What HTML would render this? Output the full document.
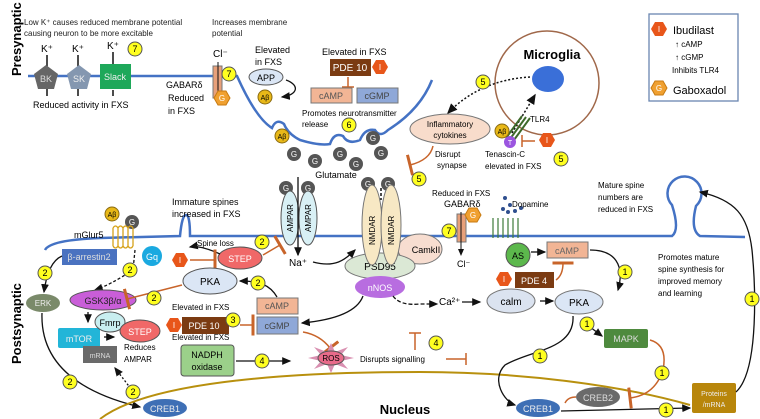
<!DOCTYPE html><html><head><style>body{margin:0;background:#fff}svg{display:block;font-family:"Liberation Sans",sans-serif}</style></head><body>
<svg width="760" height="419" viewBox="0 0 760 419" xmlns="http://www.w3.org/2000/svg">
<defs>
<marker id="a" markerWidth="8" markerHeight="8" refX="6" refY="4" orient="auto"><path d="M0,1 L7,4 L0,7z" fill="#111"/></marker>
<marker id="t" markerWidth="4" markerHeight="14" refX="2" refY="7" orient="auto"><path d="M2,0 V14" stroke="#c8642a" stroke-width="2"/></marker>
</defs>
<!-- side labels -->
<text transform="translate(21,76) rotate(-90)" font-size="13" font-weight="bold">Presynaptic</text>
<text transform="translate(21,364) rotate(-90)" font-size="13" font-weight="bold">Postsynaptic</text>
<g font-size="8" fill="#222">
<text x="24" y="25">Low K⁺ causes reduced membrane potential</text><text x="24" y="36">causing neuron to be more excitable</text>
<text x="212" y="25">Increases membrane</text><text x="212" y="36">potential</text>
</g>
<!-- presynaptic membrane -->
<path d="M28,76 H237 C250,105 262,122 272,128 Q276,118 284,124 Q288,134 300,140 Q320,146 330,144 Q334,132 343,136 Q348,145 360,140 Q365,128 375,130 Q380,138 388,130 Q420,110 432,80" fill="none" stroke="#4472c4" stroke-width="2.5"/>
<g font-size="10" text-anchor="middle"><text x="47" y="52">K⁺</text><text x="78" y="52">K⁺</text><text x="113" y="49">K⁺</text></g>
<g stroke="#111" stroke-width="1.5"><path d="M47,70V55M78,70V55M113,66V52M47,84V96M78,84V96M113,90V96"/></g>
<polygon points="46,65 58,74 54,89 38,89 34,74" fill="#666"/><text x="46" y="82" font-size="9" fill="#ddd" text-anchor="middle">BK</text>
<polygon points="79,65 91,74 87,89 71,89 67,74" fill="#8497b0"/><text x="79" y="82" font-size="9" fill="#eee" text-anchor="middle">SK</text>
<rect x="100" y="64" width="31" height="25" fill="#1ea85a"/><text x="115" y="80" font-size="9" fill="#eee" text-anchor="middle">Slack</text>
<text x="33" y="108" font-size="9">Reduced activity in FXS</text>
<rect x="213" y="66" width="9" height="32" fill="#e8a07a" stroke="#777"/>
<path d="M218,62V100" stroke="#111" stroke-width="1"/>
<text x="213" y="57" font-size="10">Cl⁻</text>
<g font-size="9"><text x="166" y="88">GABARδ</text><text x="168" y="101">Reduced</text><text x="168" y="114">in FXS</text>
<text x="255" y="53">Elevated</text><text x="255" y="65">in FXS</text>
<text x="322" y="55">Elevated in FXS</text>
<text x="302" y="116" font-size="8">Promotes neurotransmitter</text><text x="302" y="127" font-size="8">release</text></g>
<ellipse cx="266" cy="77" rx="17" ry="8" fill="#dbe6f5" stroke="#555"/><text x="266" y="81" font-size="9" text-anchor="middle">APP</text>
<path d="M286,80 C300,85 298,95 282,97" fill="none" stroke="#111" stroke-width="1.3" marker-end="url(#a)"/>
<rect x="330" y="59" width="41" height="17" fill="#7b3b12"/><text x="350" y="71" font-size="10" fill="#fff" text-anchor="middle">PDE 10</text>
<path d="M348,77V87M342,87h12" stroke="#c8642a" stroke-width="1.5"/>
<rect x="311" y="88" width="41" height="15" fill="#f2b595" stroke="#777"/><text x="331" y="99" font-size="9" fill="#555" text-anchor="middle">cAMP</text>
<rect x="357" y="88" width="41" height="15" fill="#8fa8d8" stroke="#777"/><text x="377" y="99" font-size="9" fill="#444" text-anchor="middle">cGMP</text>
<!-- glutamate -->
<g fill="#555"><circle cx="294" cy="154" r="7"/><circle cx="315" cy="161" r="7"/><circle cx="340" cy="154" r="7"/><circle cx="356" cy="164" r="7"/><circle cx="373" cy="138" r="7"/><circle cx="381" cy="153" r="7"/><circle cx="286" cy="188" r="7"/><circle cx="308" cy="188" r="7"/><circle cx="368" cy="184" r="7"/><circle cx="388" cy="184" r="7"/><circle cx="132" cy="222" r="7"/></g>
<g font-size="8" fill="#fff" text-anchor="middle"><text x="294" y="157">G</text><text x="315" y="164">G</text><text x="340" y="157">G</text><text x="356" y="167">G</text><text x="373" y="141">G</text><text x="381" y="156">G</text><text x="286" y="191">G</text><text x="308" y="191">G</text><text x="368" y="187">G</text><text x="388" y="187">G</text><text x="132" y="225">G</text></g>
<text x="336" y="178" font-size="9" text-anchor="middle">Glutamate</text>
<!-- postsynaptic membrane -->
<path d="M45,250 Q50,240 100,238 L180,236 Q182,215 186,215 Q190,215 190,236 L672,236 Q680,230 672,205 A17,17 0 1 1 696,206 Q690,230 700,236 L745,237" fill="none" stroke="#4472c4" stroke-width="2.5"/>
<text x="172" y="205" font-size="9">Immature spines</text><text x="172" y="217" font-size="9">increased in FXS</text>
<g font-size="8"><text x="598" y="188">Mature spine</text><text x="598" y="200">numbers are</text><text x="598" y="212">reduced in FXS</text>
<text x="658" y="260">Promotes mature</text><text x="658" y="272">spine synthesis for</text><text x="658" y="284">improved memory</text><text x="658" y="296">and learning</text></g>
<!-- receptors -->
<ellipse cx="290" cy="218" rx="9" ry="27" fill="#d8f0f5" stroke="#555"/><ellipse cx="308" cy="218" rx="9" ry="27" fill="#d8f0f5" stroke="#555"/>
<text transform="translate(293,232) rotate(-90)" font-size="8">AMPAR</text><text transform="translate(311,232) rotate(-90)" font-size="8">AMPAR</text>
<path d="M298,177V255" stroke="#111" stroke-width="1.3" marker-end="url(#a)"/>
<text x="298" y="266" font-size="10" text-anchor="middle">Na⁺</text>
<ellipse cx="420" cy="249" rx="22" ry="15" fill="#f7ddd0" stroke="#777"/><text x="426" y="253" font-size="9" text-anchor="middle">CamkII</text>
<ellipse cx="380" cy="266" rx="35" ry="13" fill="#dbe8d5" stroke="#777"/><text x="380" y="270" font-size="10" text-anchor="middle">PSD95</text>
<ellipse cx="372" cy="225" rx="10" ry="40" fill="#f7e8c4" stroke="#777"/><ellipse cx="391" cy="225" rx="10" ry="40" fill="#f7e8c4" stroke="#777"/>
<path d="M381,188V200" stroke="#111" stroke-width="1.5" stroke-dasharray="3,2"/>
<text transform="translate(375,245) rotate(-90)" font-size="8">NMDAR</text><text transform="translate(394,245) rotate(-90)" font-size="8">NMDAR</text>
<ellipse cx="380" cy="287" rx="25" ry="11" fill="#b86de0"/><text x="380" y="291" font-size="9" fill="#fff" text-anchor="middle">nNOS</text>
<path d="M313,262 C335,268 345,260 355,250" fill="none" stroke="#111" stroke-width="1.3" marker-end="url(#a)"/>
<!-- left post -->
<text x="74" y="238" font-size="9">mGlur5</text>
<path d="M113,228 v18 M118,228 v18 M123,228 v18 M128,228 v18 M133,228 v18 M113,228 q2.5,-4 5,0 q2.5,-4 5,0 q2.5,-4 5,0 q2.5,-4 5,0 M113,246 q2.5,4 5,0 q2.5,4 5,0 q2.5,4 5,0 q2.5,4 5,0" fill="none" stroke="#d6a21a" stroke-width="1.3"/>
<rect x="62" y="249" width="55" height="16" fill="#4a72c0"/><text x="89" y="260" font-size="9" fill="#ddd" text-anchor="middle">β-arrestin2</text>
<circle cx="152" cy="256" r="10" fill="#1aa9e0"/><text x="152" y="260" font-size="9" fill="#fff" text-anchor="middle">Gq</text>
<path d="M62,256 Q48,262 44,292" fill="none" stroke="#111" stroke-width="1.3" marker-end="url(#a)"/>
<path d="M135,250 L133,270 Q110,285 95,290" fill="none" stroke="#111" stroke-width="1.3" stroke-dasharray="3,2" marker-end="url(#a)"/>
<ellipse cx="43" cy="303" rx="17" ry="9" fill="#7a8a6a"/><text x="43" y="306" font-size="8" fill="#eee" text-anchor="middle">ERK</text>
<ellipse cx="103" cy="300" rx="33" ry="10" fill="#c95ed8" stroke="#555"/><text x="103" y="304" font-size="9" fill="#222" text-anchor="middle">GSK3β/α</text>
<path d="M88,312V322" stroke="#111" stroke-width="1.3" marker-end="url(#a)"/>
<rect x="58" y="328" width="42" height="20" rx="2" fill="#22b5d8"/><text x="79" y="342" font-size="9" fill="#eee" text-anchor="middle">mTOR</text>
<ellipse cx="110" cy="322" rx="15" ry="10" fill="#c8eef0" stroke="#555"/><text x="110" y="326" font-size="9" text-anchor="middle">Fmrp</text>
<ellipse cx="140" cy="331" rx="20" ry="11" fill="#f06868" stroke="#555"/><text x="140" y="335" font-size="9" fill="#fff" text-anchor="middle">STEP</text>
<path d="M104,337h10" stroke="#111" stroke-width="1.3" marker-end="url(#a)"/>
<rect x="83" y="346" width="34" height="17" fill="#6a6a6a"/><text x="100" y="358" font-size="7" fill="#ddd" text-anchor="middle">mRNA</text>
<text x="124" y="350" font-size="8">Reduces</text><text x="124" y="362" font-size="8">AMPAR</text>
<path d="M42,313 C40,370 90,395 140,407" fill="none" stroke="#111" stroke-width="1.3" marker-end="url(#a)"/>
<path d="M138,398 L115,368" stroke="#111" stroke-width="1.3" stroke-dasharray="2,2" marker-end="url(#a)"/>
<path d="M100,419 C150,380 300,372 420,372 C520,372 620,385 690,405" fill="none" stroke="#b8900e" stroke-width="2"/>
<ellipse cx="165" cy="408" rx="22" ry="9" fill="#3e6fb5"/><text x="165" y="412" font-size="9" fill="#eee" text-anchor="middle">CREB1</text>
<text x="405" y="414" font-size="13" font-weight="bold" text-anchor="middle">Nucleus</text>
<!-- STEP / PKA center -->
<ellipse cx="240" cy="258" rx="22" ry="11" fill="#f06868" stroke="#555"/><text x="240" y="262" font-size="9" fill="#fff" text-anchor="middle">STEP</text>
<text x="197" y="246" font-size="8">Spine loss</text>
<path d="M220,254 Q200,245 190,247" fill="none" stroke="#111" stroke-width="1.3" marker-end="url(#a)"/>
<path d="M190,260H215" stroke="#c8642a" stroke-width="1.5" marker-end="url(#t)"/>
<path d="M263,255L280,245" stroke="#c8642a" stroke-width="1.5" marker-end="url(#t)"/>
<ellipse cx="210" cy="281" rx="27" ry="13" fill="#dbe6f5" stroke="#555"/><text x="210" y="285" font-size="10" text-anchor="middle">PKA</text>
<path d="M277,297 C270,285 260,281 240,281" fill="none" stroke="#111" stroke-width="1.3" marker-end="url(#a)"/>
<path d="M182,285 L127,299" stroke="#c8642a" stroke-width="1.5" marker-end="url(#t)"/>
<rect x="257" y="298" width="41" height="16" fill="#f2b595" stroke="#777"/><text x="277" y="309" font-size="9" fill="#555" text-anchor="middle">cAMP</text>
<rect x="257" y="317" width="41" height="17" fill="#8fa8d8" stroke="#777"/><text x="277" y="329" font-size="9" fill="#444" text-anchor="middle">cGMP</text>
<text x="172" y="310" font-size="8">Elevated in FXS</text>
<rect x="182" y="317" width="47" height="17" fill="#7b3b12"/><text x="204" y="329" font-size="9" fill="#fff" text-anchor="middle">PDE 10</text>
<path d="M240,325H253" stroke="#c8642a" stroke-width="1.5" marker-end="url(#t)"/>
<path d="M363,296 Q355,318 302,323" fill="none" stroke="#111" stroke-width="1.3" marker-end="url(#a)"/>
<path d="M303,332 Q320,335 330,348" fill="none" stroke="#c8642a" stroke-width="1.5" marker-end="url(#t)"/>
<text x="172" y="340" font-size="8">Elevated in FXS</text>
<rect x="181" y="345" width="53" height="31" rx="3" fill="#9bd08a" stroke="#555"/><text x="207" y="358" font-size="9" text-anchor="middle">NADPH</text><text x="207" y="370" font-size="9" text-anchor="middle">oxidase</text>
<path d="M236,361H290" stroke="#111" stroke-width="1.3" marker-end="url(#a)"/>
<polygon points="331,343 335,352 348,347 341,355 354,358 341,361 348,369 335,364 331,373 327,364 314,369 321,361 308,358 321,355 314,347 327,352" fill="#d98fb0"/>
<ellipse cx="331" cy="358" rx="13" ry="7" fill="#e86a8a" stroke="#555"/><text x="331" y="361" font-size="8" text-anchor="middle">ROS</text>
<text x="360" y="362" font-size="8">Disrupts signalling</text>
<path d="M415,350V333M409,333h12M446,359H466M466,353v12" stroke="#c8642a" stroke-width="1.5" fill="none"/>
<!-- microglia -->
<circle cx="547" cy="83" r="52" fill="none" stroke="#a0684a" stroke-width="1.5"/>
<text x="552" y="59" font-size="13" font-weight="bold" text-anchor="middle">Microglia</text>
<ellipse cx="548" cy="79" rx="16" ry="13" fill="#3a6fd8"/>
<path d="M530,77 Q480,80 448,113" fill="none" stroke="#111" stroke-width="1.5" stroke-dasharray="2,2" marker-end="url(#a)"/>
<path d="M512,133 L535,95" stroke="#111" stroke-width="1.5" stroke-dasharray="2,2" marker-end="url(#a)"/>
<ellipse cx="450" cy="129" rx="40" ry="15" fill="#f8dccb" stroke="#777"/><text x="450" y="127" font-size="8" text-anchor="middle">Inflammatory</text><text x="450" y="138" font-size="8" text-anchor="middle">cytokines</text>
<path d="M433,146 Q430,160 410,165" fill="none" stroke="#c8642a" stroke-width="1.5" marker-end="url(#t)"/>
<text x="435" y="157" font-size="8">Disrupt</text><text x="437" y="168" font-size="8">synapse</text>
<path d="M506,138 L522,116 M510,139 L526,117 M514,140 L530,118" stroke="#3e6a2a" stroke-width="2"/>
<text x="530" y="122" font-size="8">TLR4</text>
<circle cx="510" cy="142" r="6" fill="#9b55e0"/><text x="510" y="145" font-size="7" fill="#fff" text-anchor="middle">T</text>
<path d="M535,141H522M522,135v12" stroke="#c8642a" stroke-width="1.5"/>
<text x="485" y="157" font-size="8">Tenascin-C</text><text x="485" y="169" font-size="8">elevated in FXS</text>
<!-- right post -->
<text x="432" y="196" font-size="8">Reduced in FXS</text><text x="444" y="207" font-size="9">GABARδ</text>
<rect x="457" y="214" width="9" height="28" fill="#e8a07a" stroke="#777"/>
<path d="M461,212V255" stroke="#111" stroke-width="1" marker-end="url(#a)"/>
<text x="457" y="267" font-size="9">Cl⁻</text>
<g fill="#2f4f8f"><circle cx="505" cy="198" r="2"/><circle cx="510" cy="205" r="2"/><circle cx="503" cy="209" r="2"/><circle cx="515" cy="211" r="2"/><circle cx="521" cy="208" r="2"/><circle cx="508" cy="212" r="2"/></g>
<text x="512" y="207" font-size="8">Dopamine</text>
<path d="M493,218 v20 M498,218 v20 M503,218 v20 M508,218 v20 M513,218 v20 M518,218 v20" stroke="#3e7a3a" stroke-width="1.2"/>
<circle cx="518" cy="255" r="12" fill="#5cb84c" stroke="#555"/><text x="518" y="259" font-size="9" text-anchor="middle">AS</text>
<path d="M531,252H545" stroke="#111" stroke-width="1.3" marker-end="url(#a)"/>
<rect x="547" y="242" width="41" height="16" fill="#f2b595" stroke="#777"/><text x="567" y="254" font-size="9" fill="#666" text-anchor="middle">cAMP</text>
<path d="M590,250 C615,250 625,265 618,290" fill="none" stroke="#111" stroke-width="1.3" marker-end="url(#a)"/>
<rect x="515" y="272" width="39" height="16" fill="#7b3b12"/><text x="534" y="284" font-size="9" fill="#fff" text-anchor="middle">PDE 4</text>
<path d="M556,280 Q563,275 563,263" fill="none" stroke="#c8642a" stroke-width="1.5" marker-end="url(#t)"/>
<path d="M393,296 Q400,306 420,304 H437" fill="none" stroke="#111" stroke-width="1.3" stroke-dasharray="4,2" marker-end="url(#a)"/>
<text x="439" y="305" font-size="10">Ca²⁺</text>
<path d="M462,302H480" stroke="#111" stroke-width="1.3" marker-end="url(#a)"/>
<ellipse cx="511" cy="301" rx="24" ry="12" fill="#dbe3f0" stroke="#777"/><text x="511" y="305" font-size="10" text-anchor="middle">calm</text>
<path d="M540,301H553" stroke="#111" stroke-width="1.3" marker-end="url(#a)"/>
<ellipse cx="579" cy="302" rx="24" ry="12" fill="#dbe6f5" stroke="#777"/><text x="579" y="306" font-size="10" text-anchor="middle">PKA</text>
<path d="M590,327 L602,336" stroke="#111" stroke-width="1.3" marker-end="url(#a)"/>
<rect x="604" y="329" width="44" height="19" rx="2" fill="#4e8a3e"/><text x="626" y="342" font-size="9" fill="#ddd" text-anchor="middle">MAPK</text>
<path d="M650,340 Q668,345 663,370 Q655,395 630,398" fill="none" stroke="#c8642a" stroke-width="1.5" marker-end="url(#t)"/>
<path d="M573,316 C575,350 530,350 505,365 C490,380 505,402 515,405" fill="none" stroke="#111" stroke-width="1.3" marker-end="url(#a)"/>
<ellipse cx="598" cy="397" rx="22" ry="10" fill="#6a6a6a"/><text x="598" y="401" font-size="9" fill="#ddd" text-anchor="middle">CREB2</text>
<path d="M576,397 Q568,397 565,403" fill="none" stroke="#c8642a" stroke-width="1.5"/>
<ellipse cx="538" cy="408" rx="22" ry="9" fill="#3e6fb5"/><text x="538" y="412" font-size="9" fill="#eee" text-anchor="middle">CREB1</text>
<path d="M561,411 L690,408" stroke="#111" stroke-width="1.3" marker-end="url(#a)"/>
<rect x="692" y="383" width="44" height="30" rx="2" fill="#b8860b"/><text x="714" y="396" font-size="7" fill="#eee" text-anchor="middle">Proteins</text><text x="714" y="407" font-size="7" fill="#eee" text-anchor="middle">/mRNA</text>
<path d="M736,392 C760,370 755,280 752,250 C748,215 735,200 700,192" fill="none" stroke="#111" stroke-width="1.3" marker-end="url(#a)"/>
<!-- legend -->
<rect x="649" y="14" width="89" height="87" fill="#fff" stroke="#6a86b0" stroke-width="1.3"/>
<text x="673" y="34" font-size="11">Ibudilast</text>
<text x="675" y="47" font-size="8">↑ cAMP</text><text x="675" y="60" font-size="8">↑ cGMP</text><text x="672" y="73" font-size="8">Inhibits TLR4</text>
<text x="673" y="94" font-size="11">Gaboxadol</text>
<g fill="#e8561a">
<polygon points="655,22 663,22 667,29 663,36 655,36 651,29"/>
<polygon points="376,60 384,60 388,67 384,74 376,74 372,67"/>
<polygon points="176,253 184,253 188,260 184,267 176,267 172,260"/>
<polygon points="170,318 178,318 182,325 178,332 170,332 166,325"/>
<polygon points="543,133 551,133 555,140 551,147 543,147 539,140"/>
<polygon points="500,272 508,272 512,279 508,286 500,286 496,279"/>
</g>
<g font-size="8" fill="#fff" text-anchor="middle"><text x="659" y="32">I</text><text x="380" y="70">I</text><text x="180" y="263">I</text><text x="174" y="328">I</text><text x="547" y="143">I</text><text x="504" y="282">I</text></g>
<g fill="#f0a030" stroke="#c87a10">
<polygon points="655,81 663,81 667,88 663,95 655,95 651,88"/>
<polygon points="218,91 226,91 230,98 226,105 218,105 214,98"/>
<polygon points="469,208 477,208 481,215 477,222 469,222 465,215"/>
</g>
<g font-size="8" fill="#fff" text-anchor="middle"><text x="659" y="91">G</text><text x="222" y="101">G</text><text x="473" y="218">G</text></g>
<g fill="#e8b818" stroke="#8a6a10"><circle cx="265" cy="97" r="7"/><circle cx="282" cy="136" r="7"/><circle cx="112" cy="214" r="7"/><circle cx="502" cy="131" r="7"/></g>
<g font-size="7" text-anchor="middle"><text x="265" y="100">Aβ</text><text x="282" y="139">Aβ</text><text x="112" y="217">Aβ</text><text x="502" y="134">Aβ</text></g>
<g fill="#ffff20" stroke="#555">
<circle cx="135" cy="49" r="7"/><circle cx="229" cy="74" r="7"/><circle cx="349" cy="125" r="7"/>
<circle cx="483" cy="82" r="7"/><circle cx="419" cy="179" r="7"/><circle cx="561" cy="159" r="7"/>
<circle cx="45" cy="273" r="7"/><circle cx="130" cy="270" r="7"/><circle cx="154" cy="298" r="7"/><circle cx="262" cy="242" r="7"/><circle cx="258" cy="283" r="7"/>
<circle cx="233" cy="320" r="7"/><circle cx="262" cy="361" r="7"/><circle cx="436" cy="343" r="7"/>
<circle cx="70" cy="382" r="7"/><circle cx="133" cy="392" r="7"/>
<circle cx="449" cy="231" r="7"/><circle cx="625" cy="272" r="7"/><circle cx="587" cy="324" r="7"/><circle cx="540" cy="356" r="7"/><circle cx="662" cy="373" r="7"/><circle cx="666" cy="410" r="7"/><circle cx="752" cy="299" r="7"/>
</g>
<g font-size="9" text-anchor="middle">
<text x="135" y="52">7</text><text x="229" y="77">7</text><text x="349" y="128">6</text>
<text x="483" y="85">5</text><text x="419" y="182">5</text><text x="561" y="162">5</text>
<text x="45" y="276">2</text><text x="130" y="273">2</text><text x="154" y="301">2</text><text x="262" y="245">2</text><text x="258" y="286">2</text>
<text x="233" y="323">3</text><text x="262" y="364">4</text><text x="436" y="346">4</text>
<text x="70" y="385">2</text><text x="133" y="395">2</text>
<text x="449" y="234">7</text><text x="625" y="275">1</text><text x="587" y="327">1</text><text x="540" y="359">1</text><text x="662" y="376">1</text><text x="666" y="413">1</text><text x="752" y="302">1</text>
</g>
</svg>
</body></html>
